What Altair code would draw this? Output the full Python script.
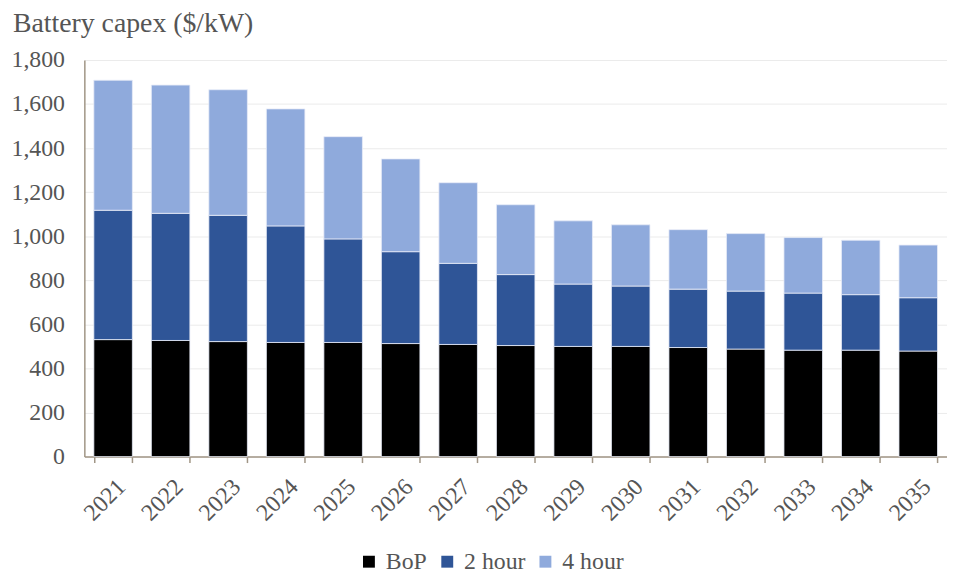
import altair as alt
import pandas as pd

years = [str(y) for y in range(2021, 2036)]
series = ["BoP", "2 hour", "4 hour"]
bop = [531, 527, 522, 518, 518, 513, 509, 504, 500, 500, 495, 488, 483, 483, 479]
two_hour = [587, 577, 573, 529, 470, 417, 368, 322, 283, 274, 265, 263, 259, 252, 242]
four_hour = [590, 582, 570, 531, 464, 421, 366, 317, 287, 278, 270, 261, 252, 247, 239]
colors = ["#000000", "#2F5597", "#8FAADC"]

rows = []
for i, y in enumerate(years):
    for k, (s, vals) in enumerate(zip(series, [bop, two_hour, four_hour])):
        rows.append({"year": y, "series": s, "order": k, "value": vals[i]})
df = pd.DataFrame(rows)

FONT = "Liberation Serif, Times New Roman, serif"
TXT = "#555555"
AX = "#A09585"

chart = (
    alt.Chart(df)
    .mark_bar(stroke="#E8ECF8", strokeWidth=0.8)
    .encode(
        x=alt.X(
            "year:N",
            sort=years,
            title=None,
            scale=alt.Scale(paddingInner=0.33, paddingOuter=0.165),
            axis=alt.Axis(
                labelAngle=-45,
                labelFont=FONT,
                labelFontSize=24,
                labelColor=TXT,
                domainColor=AX,
                domainWidth=1.5,
                tickColor=AX,
                tickWidth=1.5,
                tickSize=6,
                tickBand="extent",
                labelPadding=12,
                grid=False,
            ),
        ),
        y=alt.Y(
            "value:Q",
            stack="zero",
            title=None,
            scale=alt.Scale(domain=[0, 1800], nice=False),
            axis=alt.Axis(
                values=list(range(0, 1801, 200)),
                format=",.0f",
                labelFont=FONT,
                labelFontSize=24,
                labelColor=TXT,
                labelPadding=20,
                ticks=False,
                domainColor=AX,
                domainWidth=1.5,
                gridColor="#EBEBEB",
                gridWidth=1,
            ),
        ),
        color=alt.Color(
            "series:N",
            sort=series,
            scale=alt.Scale(domain=series, range=colors),
            legend=alt.Legend(
                title=None,
                orient="none",
                direction="horizontal",
                legendX=275,
                legendY=494,
                symbolType="square",
                symbolSize=144,
                symbolStrokeWidth=0,
                labelFont=FONT,
                labelFontSize=24,
                labelColor=TXT,
                labelOffset=5,
                columnPadding=8,
            ),
        ),
        order=alt.Order("order:Q", sort="ascending"),
    )
    .properties(
        width=870,
        height=400,
        padding={"left": 3, "top": 0, "right": 0, "bottom": 0},
        title=alt.TitleParams(
            "Battery capex ($/kW)",
            anchor="start",
            frame="bounds",
            font=FONT,
            fontSize=28,
            fontWeight="normal",
            color=TXT,
            offset=10,
            dx=2,
        ),
    )
    .configure_view(stroke=None)
)

chart.save("out.html", embed_options={"renderer": "svg", "actions": False})
